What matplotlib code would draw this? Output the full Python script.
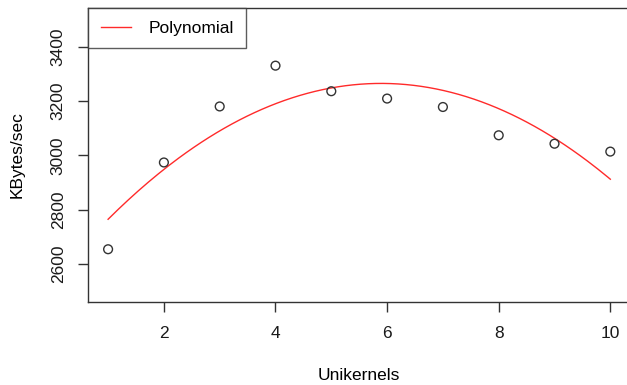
import numpy as np
import matplotlib.pyplot as plt

unikernels = [1, 2, 3, 4, 5, 6, 7, 8, 9, 10]
kbytes_sec = [2655, 2974, 3180, 3330, 3236, 3209, 3178, 3074, 3043, 3014]

plt.rcParams.update({"font.family": ["Liberation Sans", "DejaVu Sans"],
                     "font.size": 12.5})

fig = plt.figure()
fig.set_size_inches(6.27, 3.85)
ax = fig.add_axes([88/627, 83/385, 542.4/627, 294/385])

# quadratic fit, drawn as a smooth curve
coef = np.polyfit(unikernels, kbytes_sec, 2)
xs = np.linspace(min(unikernels), max(unikernels), 200)
ax.plot(xs, np.polyval(coef, xs), color="#ff2a2a", lw=1, label="Polynomial")

ax.scatter(unikernels, kbytes_sec, s=40, facecolors="none",
           edgecolors="#333333", linewidths=1, zorder=3)

ax.set_xlim(0.64, 10.36)
ax.set_ylim(2461, 3542)
ax.set_xticks([2, 4, 6, 8, 10])
ax.set_yticks([2600, 2800, 3000, 3200, 3400])
ax.set_xlabel("Unikernels", labelpad=20)
ax.set_ylabel("KBytes/sec", labelpad=19)
for lab in ax.get_yticklabels():
    lab.set_rotation(90)
    lab.set_va("center")

for s in ax.spines.values():
    s.set_color("#333333")
    s.set_linewidth(1)
ax.spines["right"].set_visible(False)
ax.tick_params(length=7, width=1, color="#333333", labelcolor="#1a1a1a")
ax.tick_params(axis="x", pad=10)
ax.tick_params(axis="y", pad=9)

leg = ax.legend(loc="upper left", borderaxespad=0, fancybox=False,
                edgecolor="#333333", handlelength=1.75, borderpad=0.72,
                handletextpad=1.0)
leg.get_frame().set_linewidth(1)

plt.savefig("out.png", dpi=100)
